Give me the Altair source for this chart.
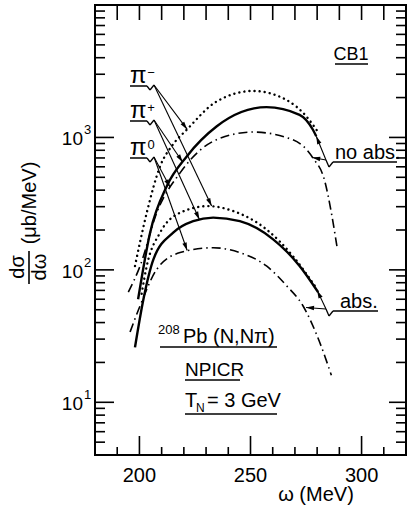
import math
import altair as alt
import pandas as pd

# 208Pb(N,N pi) at T_N = 3 GeV: d(sigma)/d(omega) in ub/MeV versus omega in MeV
omega_pim_noabs = [198.0, 203.3, 209.3, 215.0, 221.3, 234.7, 251.2, 266.2, 275.2, 280.7]
dsig_pim_noabs = [107, 270, 605, 880, 1143, 1866, 2244, 1919, 1438, 1080]
omega_pip_noabs = [199.4, 204.8, 212.3, 221.3, 234.7, 257.2, 272.1, 278.1, 279.6]
dsig_pip_noabs = [60, 191, 428, 719, 1210, 1693, 1482, 1143, 1020]
omega_pi0_noabs = [195.0, 200.3, 207.8, 218.3, 234.7, 251.2, 269.1, 278.1, 283.4, 286.4, 289.0]
dsig_pi0_noabs = [68, 107, 270, 540, 961, 1098, 960, 700, 470, 270, 147]

omega_pim_abs = [201.0, 203.3, 209.3, 218.3, 231.0, 242.2, 257.2, 269.1, 278.9]
dsig_pim_abs = [66, 107, 191, 270, 303, 278, 202, 127, 76]
omega_pip_abs = [198.0, 201.8, 206.3, 215.2, 224.2, 233.2, 245.2, 260.2, 272.1, 280.4]
dsig_pip_abs = [26, 60, 120, 191, 233, 248, 233, 170, 107, 68]
omega_pi0_abs = [195.8, 200.3, 207.8, 218.3, 233.2, 245.2, 257.2, 266.2, 273.6, 281.1, 286.4]
dsig_pi0_abs = [34, 53.6, 101, 135, 147, 135, 107, 76, 53.6, 28.5, 16]

x_tick_labels = [200, 250, 300]
y_decades = [10, 100, 1000]
y_decade_exp = ["1", "2", "3"]

# points on the curves that the label arrows point to: (label, omega, dsig)
arrow_targets = [
    ("pim", 221.5, 1150), ("pim", 232.5, 303),
    ("pip", 219.5, 650), ("pip", 227.0, 240),
    ("pi0", 213.8, 420), ("pi0", 221.5, 140),
    ("noabs", 279.6, 1020), ("noabs", 277.8, 705),
    ("abs", 280.0, 70), ("abs", 275.0, 52),
]

# ---------------------------------------------------------------------------
W, H = 311, 450
X_MIN, X_MAX = 180, 320
Y_MIN, Y_MAX = 4, 10000
FONT = "Liberation Sans"

x_sc = alt.Scale(domain=[X_MIN, X_MAX], nice=False, zero=False)
y_sc = alt.Scale(type="log", domain=[Y_MIN, Y_MAX], nice=False)


def px(w):
    return (w - X_MIN) / (X_MAX - X_MIN) * W


def py(v):
    lo, hi = math.log10(Y_MIN), math.log10(Y_MAX)
    return (hi - math.log10(v)) / (hi - lo) * H


series = [
    ("pim_noabs", "dot", omega_pim_noabs, dsig_pim_noabs),
    ("pip_noabs", "solid", omega_pip_noabs, dsig_pip_noabs),
    ("pi0_noabs", "dashdot", omega_pi0_noabs, dsig_pi0_noabs),
    ("pim_abs", "dot", omega_pim_abs, dsig_pim_abs),
    ("pip_abs", "solid", omega_pip_abs, dsig_pip_abs),
    ("pi0_abs", "dashdot", omega_pi0_abs, dsig_pi0_abs),
]
rows = []
for name, style, xs, ys in series:
    for i, (w, v) in enumerate(zip(xs, ys)):
        rows.append({"series": name, "style": style, "omega": w, "dsig": v, "order": i})
curves = pd.DataFrame(rows)

X = alt.X("omega:Q", scale=x_sc, axis=None)
Y = alt.Y("dsig:Q", scale=y_sc, axis=None)


def curve_layer(style, **kw):
    return alt.Chart(curves[curves["style"] == style]).mark_line(
        interpolate="monotone", color="black", **kw
    ).encode(x=X, y=Y, detail="series:N", order="order:Q")


layers = [
    curve_layer("solid", strokeWidth=2.4),
    curve_layer("dot", strokeWidth=2.4, strokeDash=[0.1, 5], strokeCap="round"),
    curve_layer("dashdot", strokeWidth=1.6, strokeDash=[9, 4, 1.5, 4]),
]

# ---- ticks drawn inside the frame -----------------------------------------
x_minor = [w for w in range(190, 320, 10) if w not in x_tick_labels]
y_minor = [m * 10 ** e for e in range(0, 4) for m in range(2, 10) if Y_MIN < m * 10 ** e < Y_MAX]
y_minor = [v for v in y_minor if v not in y_decades]
x_all = pd.DataFrame({"omega": list(range(190, 320, 10))})
x_min_df = pd.DataFrame({"omega": x_minor})
x_maj_df = pd.DataFrame({"omega": x_tick_labels})
y_min_df = pd.DataFrame({"dsig": y_minor})
y_maj_df = pd.DataFrame({"dsig": y_decades})


def xtick(df, y0, y1):
    return alt.Chart(df).mark_rule(color="black", strokeWidth=1.6).encode(
        x=X, y=alt.value(y0), y2=alt.value(y1))


def ytick(df, x0, x1):
    return alt.Chart(df).mark_rule(color="black", strokeWidth=1.6).encode(
        y=Y, x=alt.value(x0), x2=alt.value(x1))


layers += [
    xtick(x_min_df, H, H - 8),
    xtick(x_maj_df, H, H - 19),
    xtick(x_all, 0, 15),
    ytick(y_min_df, 0, 10),
    ytick(y_maj_df, 0, 19),
    ytick(y_min_df, W, W - 10),
    ytick(y_maj_df, W - 17, W + 1),
]

# ---- tick labels ------------------------------------------------------------
layers.append(
    alt.Chart(x_maj_df).mark_text(font=FONT, fontSize=20, baseline="middle", color="black")
    .encode(x=X, y=alt.value(H + 21), text=alt.Text("omega:Q", format="d"))
)
ylab = pd.DataFrame({"dsig": y_decades, "exp": y_decade_exp})
layers.append(
    alt.Chart(ylab).mark_text(font=FONT, fontSize=19, align="right", baseline="middle", dy=2, color="black")
    .encode(y=Y, x=alt.value(-12), text=alt.value("10"))
)
layers.append(
    alt.Chart(ylab).mark_text(font=FONT, fontSize=13, align="left", baseline="middle", dy=-7, dx=1, color="black")
    .encode(y=Y, x=alt.value(-12), text="exp:N")
)

# ---- annotation helpers ------------------------------------------------------
one = pd.DataFrame({"k": [0]})


def label(txt, x, y, size=20, align="left", baseline="alphabetic", angle=0):
    kw = dict(font=FONT, fontSize=size, align=align, baseline=baseline, color="black", text=txt)
    if angle:
        kw["angle"] = angle
    return alt.Chart(one).mark_text(**kw).encode(x=alt.value(x), y=alt.value(y))


def seg(x1, y1, x2, y2, w=1.5):
    return alt.Chart(one).mark_rule(color="black", strokeWidth=w).encode(
        x=alt.value(x1), y=alt.value(y1), x2=alt.value(x2), y2=alt.value(y2))


def head(tx, ty, ux, uy):
    # filled arrowhead with its tip on (tx, ty), pointing along (ux, uy)
    ang = math.degrees(math.atan2(ux, -uy)) % 360
    return alt.Chart(one).mark_point(
        shape="M0,0L-0.9,3.2L0.9,3.2Z", filled=True, size=25, color="black",
        opacity=1, angle=ang
    ).encode(x=alt.value(tx), y=alt.value(ty))


# axis titles
layers += [
    label("dσ", -77, 262, size=20, align="center", baseline="middle", angle=270),
    label("dω", -55, 262, size=20, align="center", baseline="middle", angle=270),
    seg(-66, 246, -66, 279, 1.6),
    label("(μb/MeV)", -65, 198, size=20, align="center", baseline="middle", angle=270),
    label("ω (MeV)", 221, 490, size=20, align="center", baseline="middle"),
]

# CB1
layers += [label("CB1", 256, 55, size=18, align="center"), seg(240, 59, 273, 59)]

# pion labels with brace-and-arrow
origins = {"pim": (59, 80), "pip": (59, 115), "pi0": (59, 152), "noabs": (231, 155), "abs": (231, 304)}
for key, sup in [("pim", "−"), ("pip", "+"), ("pi0", "0")]:
    ox, oy = origins[key]
    uy = oy + 1
    layers += [
        label("π", 35, uy - 3, size=24),
        label(sup, 56, uy - 13, size=13, align="center", baseline="middle"),
        seg(35, uy, 52, uy),
        seg(52, uy, 55, uy + 4, 1.3),
        seg(55, uy + 4, ox, oy, 1.3),
    ]

# absorption labels
for key, txt, x_left, x_right in [("noabs", "no abs.", 240, 302), ("abs", "abs.", 245, 283)]:
    ox, oy = origins[key]
    uy = oy + 2
    layers += [
        label(txt, x_left, uy - 3, size=20),
        seg(238, uy, x_right, uy),
        seg(ox, oy, 234, uy + 5, 1.3),
        seg(234, uy + 5, 238, uy, 1.3),
    ]

for key, w, v in arrow_targets:
    ox, oy = origins[key]
    tx, ty = px(w), py(v)
    length = math.hypot(tx - ox, ty - oy)
    ux, uy = (tx - ox) / length, (ty - oy) / length
    layers += [seg(ox, oy, tx, ty, 1.1), head(tx, ty, ux, uy)]

# reaction block
layers += [
    label("208", 63, 329, size=13),
    label("Pb (N,Nπ)", 88, 338, size=20),
    seg(65, 342, 182, 342),
    label("NPICR", 90, 371, size=19),
    seg(90, 375, 145, 375),
    label("T", 90, 402, size=20),
    label("N", 101, 407, size=12),
    label("= 3 GeV", 112, 402, size=20),
    seg(90, 409, 182, 409),
]

chart = (
    alt.layer(*layers)
    .properties(
        width=W,
        height=H,
        autosize=alt.AutoSizeParams(type="none"),
        padding={"left": 95, "top": 5, "right": 1, "bottom": 55},
        background="white",
    )
    .configure_view(stroke="black", strokeWidth=2)
)

chart.save("out.html", embed_options={"renderer": "svg", "actions": False})
